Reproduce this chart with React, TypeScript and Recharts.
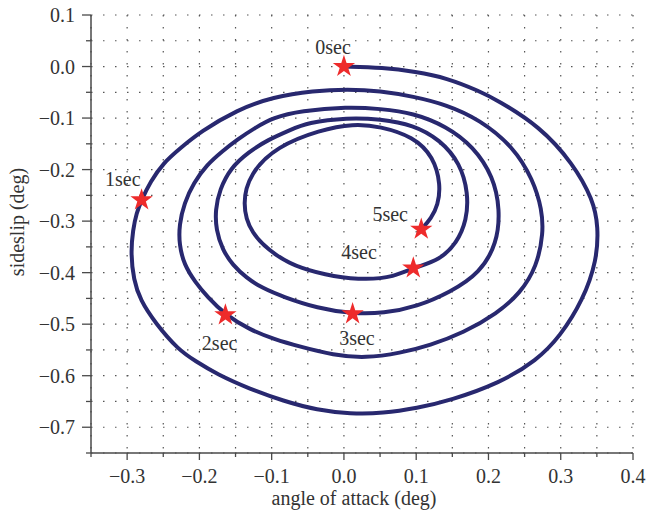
import React from "react";
import { ScatterChart, Scatter, XAxis, YAxis, CartesianGrid, Symbols } from "recharts";

const FONT = '"Liberation Serif", "DejaVu Serif", serif';
const INK = "#333333";
const AXIS = "#4a4a4a";
const CURVE = "#28286f";
const STAR = "#ee2b2b";
const FS = 20;

// tick positions (labels only on the 0.1 steps)
const xTicks = [-0.35, -0.3, -0.25, -0.2, -0.15, -0.1, -0.05, 0, 0.05, 0.1, 0.15, 0.2, 0.25, 0.3, 0.35, 0.4];
const yTicks = [-0.75, -0.7, -0.65, -0.6, -0.55, -0.5, -0.45, -0.4, -0.35, -0.3, -0.25, -0.2, -0.15, -0.1, -0.05, 0, 0.05, 0.1];

// spiral: [angle of attack, sideslip]
const loop1 = [
  [0, 0], [0.054, -0.002], [0.099, -0.01], [0.142, -0.022], [0.188, -0.048], [0.212, -0.065], [0.271, -0.116],
  [0.317, -0.188], [0.345, -0.259], [0.352, -0.311], [0.35, -0.376], [0.331, -0.453], [0.299, -0.524],
  [0.267, -0.57], [0.216, -0.614], [0.147, -0.648], [0.101, -0.663], [0.054, -0.673], [0.009, -0.674],
  [-0.037, -0.667], [-0.084, -0.649], [-0.13, -0.626], [-0.176, -0.597], [-0.205, -0.572], [-0.229, -0.55],
  [-0.261, -0.498], [-0.282, -0.453], [-0.291, -0.414], [-0.295, -0.362], [-0.292, -0.317], [-0.287, -0.284],
  [-0.28, -0.259], [-0.268, -0.224], [-0.25, -0.187], [-0.226, -0.158], [-0.199, -0.127], [-0.148, -0.084],
  [-0.098, -0.059], [-0.042, -0.047], [0.005, -0.044], [0.05, -0.047],
];
const loop2 = [
  [0.096, -0.058], [0.142, -0.074], [0.188, -0.103], [0.234, -0.155], [0.262, -0.22], [0.274, -0.278],
  [0.276, -0.323], [0.267, -0.388], [0.244, -0.44], [0.212, -0.479], [0.165, -0.517], [0.119, -0.541],
  [0.078, -0.556], [0.03, -0.566], [-0.015, -0.56], [-0.06, -0.544], [-0.097, -0.529], [-0.13, -0.511],
  [-0.164, -0.482], [-0.189, -0.447], [-0.206, -0.418], [-0.221, -0.385], [-0.228, -0.346], [-0.228, -0.307],
  [-0.221, -0.265], [-0.208, -0.226], [-0.19, -0.191], [-0.168, -0.164], [-0.148, -0.142], [-0.123, -0.119],
  [-0.098, -0.099], [-0.06, -0.086], [0.005, -0.078], [0.05, -0.082],
];
const loop3 = [
  [0.096, -0.09], [0.142, -0.116], [0.179, -0.155], [0.207, -0.214], [0.216, -0.278], [0.212, -0.343],
  [0.188, -0.401], [0.147, -0.438], [0.101, -0.466], [0.055, -0.479], [0.012, -0.48], [-0.037, -0.469],
  [-0.084, -0.447], [-0.113, -0.43], [-0.135, -0.41], [-0.154, -0.385], [-0.168, -0.356], [-0.177, -0.317],
  [-0.178, -0.278], [-0.172, -0.239], [-0.157, -0.197], [-0.132, -0.166], [-0.105, -0.142], [-0.074, -0.123],
  [-0.051, -0.109], [0.005, -0.099], [0.05, -0.102],
];
const loop4 = [
  [0.096, -0.113], [0.133, -0.142], [0.161, -0.188], [0.172, -0.246], [0.17, -0.298], [0.156, -0.343],
  [0.133, -0.375], [0.096, -0.391], [0.069, -0.408], [0.032, -0.414], [-0.014, -0.408], [-0.06, -0.392],
  [-0.093, -0.369], [-0.13, -0.324], [-0.141, -0.265], [-0.13, -0.207], [-0.093, -0.155], [-0.033, -0.123],
  [0.013, -0.111], [0.05, -0.116],
];
const loop5 = [
  [0.096, -0.136], [0.124, -0.175], [0.134, -0.23], [0.13, -0.269], [0.121, -0.294], [0.107, -0.316],
];

// time markers
const markLabels = ["0sec", "1sec", "2sec", "3sec", "4sec", "5sec"];
const markX = [0, -0.28, -0.164, 0.012, 0.096, 0.107];
const markY = [0, -0.259, -0.482, -0.48, -0.391, -0.316];
const textX = [-0.015, -0.306, -0.172, 0.018, 0.021, 0.064];
const textY = [0.038, -0.218, -0.537, -0.527, -0.36, -0.286];

const spiral = [...loop1, ...loop2, ...loop3, ...loop4, ...loop5].map(([x, y]) => ({ x, y }));
const marks = markX.map((x, i) => ({ x, y: markY[i] }));
const texts = textX.map((x, i) => ({ x, y: textY[i], label: markLabels[i] }));

const isMajor = (v: number) => Math.abs(Math.round(v * 10) - v * 10) < 1e-6;
const fmt = (v: number) => (v < -1e-9 ? "\u2212" : "") + Math.abs(v).toFixed(1);

function BottomTick({ x, y, payload }: any) {
  const major = isMajor(payload.value);
  return (
    <g>
      <line x1={x} x2={x} y1={y} y2={y + (major ? 7 : 4)} stroke={AXIS} strokeWidth={1.3} />
      {major && (
        <text x={x} y={y + 30} textAnchor="middle" fontSize={FS} fontFamily={FONT} fill={INK}>
          {fmt(payload.value)}
        </text>
      )}
    </g>
  );
}

function LeftTick({ x, y, payload }: any) {
  const major = isMajor(payload.value);
  return (
    <g>
      <line x1={x - (major ? 9 : 5)} x2={x} y1={y} y2={y} stroke={AXIS} strokeWidth={1.3} />
      {major && (
        <text x={x - 16} y={y + 7} textAnchor="end" fontSize={FS} fontFamily={FONT} fill={INK}>
          {fmt(payload.value)}
        </text>
      )}
    </g>
  );
}

function TopTick({ x, y, payload }: any) {
  const major = isMajor(payload.value);
  return <line x1={x} x2={x} y1={y} y2={y + (major ? 8 : 5)} stroke={AXIS} strokeWidth={1.3} />;
}

function RightTick({ x, y }: any) {
  return <line x1={x - 6} x2={x} y1={y} y2={y} stroke={AXIS} strokeWidth={1.3} />;
}

export default function App() {
  return (
    <div style={{ width: 646, height: 527, background: "#fff" }}>
      <style>{"body{margin:0}"}</style>
      <ScatterChart width={646} height={527} margin={{ top: 15, right: 13, bottom: 0, left: 0 }}>
        <CartesianGrid stroke="#555" strokeWidth={1.2} strokeDasharray="1.5 10.5" />
        <XAxis
          type="number"
          dataKey="x"
          domain={[-0.35, 0.4]}
          ticks={xTicks}
          interval={0}
          allowDataOverflow
          height={74}
          tickSize={0}
          tickMargin={0}
          tickLine={false}
          tick={<BottomTick />}
          axisLine={{ stroke: AXIS, strokeWidth: 1.5 }}
          label={{
            content: ({ viewBox }: any) => (
              <text
                x={viewBox.x + viewBox.width / 2 - 8}
                y={viewBox.y + 52}
                textAnchor="middle"
                fontSize={FS}
                fontFamily={FONT}
                fill={INK}
              >
                angle of attack (deg)
              </text>
            ),
          }}
        />
        <XAxis
          xAxisId="top"
          orientation="top"
          type="number"
          dataKey="x"
          domain={[-0.35, 0.4]}
          ticks={xTicks}
          interval={0}
          allowDataOverflow
          height={0}
          mirror
          tickSize={0}
          tickMargin={0}
          tickLine={false}
          tick={<TopTick />}
          axisLine={{ stroke: AXIS, strokeWidth: 1.5 }}
        />
        <YAxis
          type="number"
          dataKey="y"
          domain={[-0.75, 0.1]}
          ticks={yTicks}
          interval={0}
          allowDataOverflow
          width={91}
          tickSize={0}
          tickMargin={0}
          tickLine={false}
          tick={<LeftTick />}
          axisLine={{ stroke: AXIS, strokeWidth: 1.5 }}
          label={{
            content: ({ viewBox }: any) => (
              <text
                transform={`translate(17, ${viewBox.y + viewBox.height / 2 - 12}) rotate(-90)`}
                textAnchor="middle"
                dominantBaseline="central"
                fontSize={FS}
                fontFamily={FONT}
                fill={INK}
              >
                sideslip (deg)
              </text>
            ),
          }}
        />
        <YAxis
          yAxisId="right"
          orientation="right"
          type="number"
          dataKey="y"
          domain={[-0.75, 0.1]}
          ticks={yTicks}
          interval={0}
          allowDataOverflow
          width={0}
          mirror
          tickSize={0}
          tickMargin={0}
          tickLine={false}
          tick={<RightTick />}
          axisLine={{ stroke: AXIS, strokeWidth: 1.5 }}
        />
        <Scatter
          data={spiral}
          fill={CURVE}
          line={{ stroke: CURVE, strokeWidth: 4 }}
          lineType="joint"
          lineJointType="basis"
          shape={() => <g />}
          isAnimationActive={false}
        />
        <Scatter
          data={marks}
          fill={STAR}
          shape={(p: any) => <Symbols cx={p.cx} cy={p.cy} type="star" size={155} fill={STAR} />}
          isAnimationActive={false}
        />
        <Scatter
          data={texts}
          fill={INK}
          shape={(p: any) => (
            <text
              x={p.cx}
              y={p.cy}
              textAnchor="middle"
              dominantBaseline="central"
              fontSize={FS}
              fontFamily={FONT}
              fill={INK}
            >
              {p.payload.label}
            </text>
          )}
          isAnimationActive={false}
        />
      </ScatterChart>
    </div>
  );
}
